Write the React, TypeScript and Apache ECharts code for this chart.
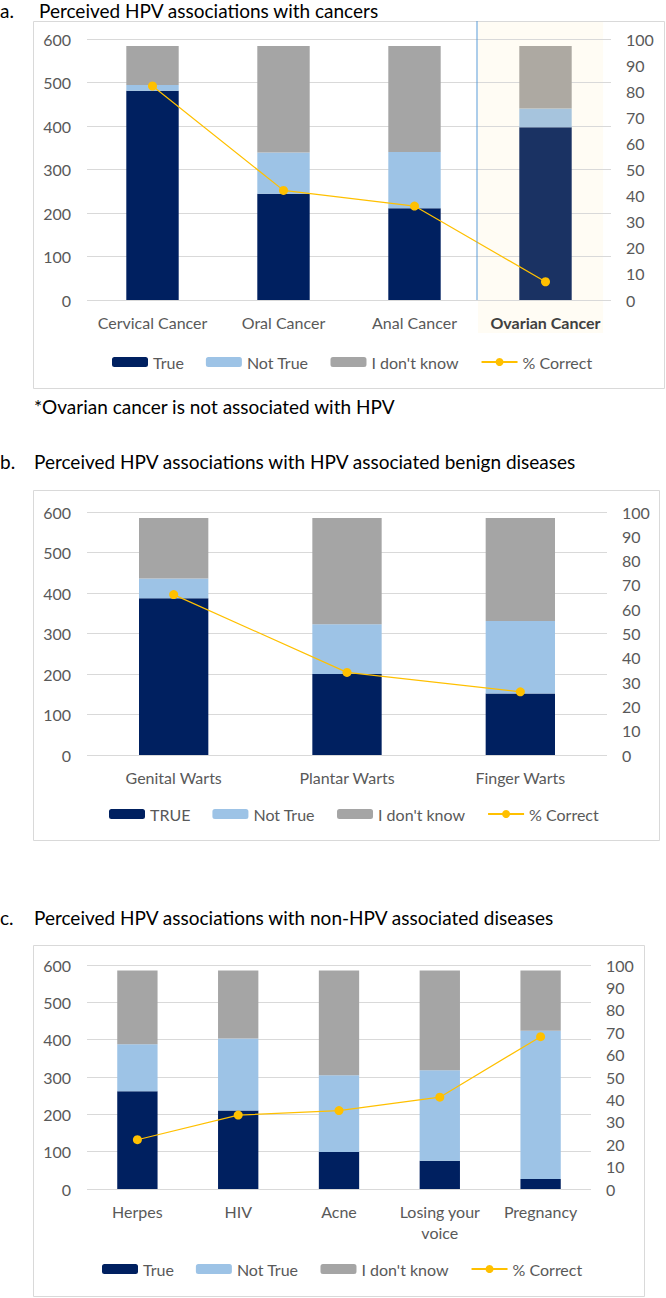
import React, { useEffect, useRef } from "react";
import * as echarts from "echarts";

// ---- Data ----
const catsA = ["Cervical Cancer", "Oral Cancer", "Anal Cancer", "Ovarian Cancer"];
const trueA = [481, 244, 211, 397];
const notTrueA = [13, 95, 129, 43];
const dkA = [90, 245, 244, 144];
const pctA = [82, 42, 36, 7];

const catsB = ["Genital Warts", "Plantar Warts", "Finger Warts"];
const trueB = [387, 200, 152];
const notTrueB = [49, 123, 179];
const dkB = [149, 262, 254];
const pctB = [66, 34, 26];

const catsC = ["Herpes", "HIV", "Acne", "Losing your\nvoice", "Pregnancy"];
const trueC = [262, 210, 99, 76, 27];
const notTrueC = [126, 193, 206, 242, 397];
const dkC = [197, 182, 280, 267, 161];
const pctC = [22, 33, 35, 41, 68];

const leftTicks = { min: 0, max: 600, interval: 100 };
const rightTicks = { min: 0, max: 100, interval: 10 };

const highlighted = "Ovarian Cancer";

// ---- Style ----
const FONT = "Lato";
const NAVY = "#002060";
const LIGHT = "#9DC3E6";
const GRAY = "#A5A5A5";
const GOLD = "#FFC000";
const HL_NAVY = "#1A3263";
const HL_LIGHT = "#A6C4DD";
const HL_GRAY = "#ADA9A2";
const AXIS_TXT = "#595959";
const GRID_LINE = "#D9D9D9";

const grids = [
  { left: 87, top: 39, width: 524, height: 261 },
  { left: 87, top: 512, width: 520, height: 243 },
  { left: 87, top: 965, width: 504, height: 224 },
];

function buildOption() {
  const xAxis: any[] = [];
  const yAxis: any[] = [];
  const series: any[] = [];
  const sets = [
    { cats: catsA, t: trueA, n: notTrueA, d: dkA, p: pctA, trueName: "True" },
    { cats: catsB, t: trueB, n: notTrueB, d: dkB, p: pctB, trueName: "TRUE" },
    { cats: catsC, t: trueC, n: notTrueC, d: dkC, p: pctC, trueName: "True" },
  ];
  sets.forEach((s, i) => {
    xAxis.push({
      type: "category",
      gridIndex: i,
      data: s.cats.map((c) =>
        c === highlighted
          ? { value: c, textStyle: { fontWeight: "bold", color: "#404040" } }
          : c
      ),
      axisLine: { show: false },
      axisTick: { show: false },
      axisLabel: {
        color: AXIS_TXT,
        fontFamily: FONT,
        fontSize: 16,
        margin: 12,
        lineHeight: 21,
        interval: 0,
      },
    });
    yAxis.push({
      type: "value",
      gridIndex: i,
      ...leftTicks,
      axisLine: { show: false },
      axisTick: { show: false },
      axisLabel: { color: AXIS_TXT, fontFamily: FONT, fontSize: 16, margin: 16 },
      splitLine: { show: true, lineStyle: { color: GRID_LINE, width: 1 } },
    });
    yAxis.push({
      type: "value",
      gridIndex: i,
      position: "right",
      ...rightTicks,
      axisLine: { show: false },
      axisTick: { show: false },
      axisLabel: { color: AXIS_TXT, fontFamily: FONT, fontSize: 16, margin: 15 },
      splitLine: { show: false },
    });
    const hl = (vals: number[], col: string) =>
      vals.map((v, k) =>
        s.cats[k] === highlighted ? { value: v, itemStyle: { color: col } } : v
      );
    series.push({
      name: s.trueName,
      type: "bar",
      stack: "s" + i,
      xAxisIndex: i,
      yAxisIndex: i * 2,
      barWidth: "40%",
      itemStyle: { color: NAVY },
      data: hl(s.t, HL_NAVY),
    });
    series.push({
      name: "Not True",
      type: "bar",
      stack: "s" + i,
      xAxisIndex: i,
      yAxisIndex: i * 2,
      barWidth: "40%",
      itemStyle: { color: LIGHT },
      data: hl(s.n, HL_LIGHT),
    });
    series.push({
      name: "I don't know",
      type: "bar",
      stack: "s" + i,
      xAxisIndex: i,
      yAxisIndex: i * 2,
      barWidth: "40%",
      itemStyle: { color: GRAY },
      data: hl(s.d, HL_GRAY),
    });
    series.push({
      name: "% Correct",
      type: "line",
      xAxisIndex: i,
      yAxisIndex: i * 2 + 1,
      symbol: "circle",
      symbolSize: 9,
      itemStyle: { color: GOLD },
      lineStyle: { color: GOLD, width: 1.2 },
      z: 5,
      data: s.p,
    });
  });

  const legendBase = {
    orient: "horizontal",
    padding: 0,
    itemWidth: 36,
    itemHeight: 10,
    itemGap: 22,
    textStyle: { color: AXIS_TXT, fontFamily: FONT, fontSize: 16 },
    selectedMode: false,
  };

  const titleStyle = { color: "#000", fontFamily: FONT, fontSize: 19, fontWeight: "normal" };

  return {
    animation: false,
    backgroundColor: "#fff",
    grid: grids.map((g) => ({ ...g, containLabel: false })),
    xAxis,
    yAxis,
    series,
    title: [
      { text: "a.", left: 0, top: 1, padding: 0, textStyle: titleStyle },
      { text: "Perceived HPV associations with cancers", left: 39, top: 1, padding: 0, textStyle: titleStyle },
      { text: "*Ovarian cancer is not associated with HPV", left: 34, top: 397, padding: 0, textStyle: titleStyle },
      { text: "b.", left: 0, top: 452, padding: 0, textStyle: titleStyle },
      { text: "Perceived HPV associations with HPV associated benign diseases", left: 34, top: 452, padding: 0, textStyle: titleStyle },
      { text: "c.", left: 0, top: 908, padding: 0, textStyle: titleStyle },
      { text: "Perceived HPV associations with non-HPV associated diseases", left: 34, top: 908, padding: 0, textStyle: titleStyle },
    ],
    legend: [
      { ...legendBase, left: 112, top: 354, data: ["True", "Not True", "I don't know", "% Correct"] },
      { ...legendBase, left: 109, top: 806, data: ["TRUE", "Not True", "I don't know", "% Correct"] },
      { ...legendBase, left: 102, top: 1261, data: ["True", "Not True", "I don't know", "% Correct"] },
    ],
  };
}

export default function App() {
  const ref = useRef<HTMLDivElement>(null);
  useEffect(() => {
    if (!ref.current) return;
    const chart = echarts.init(ref.current, null, { renderer: "svg" });
    chart.setOption(buildOption());

    // Highlight band for the non-HPV cancer, computed through the axis scale
    const idx = catsA.indexOf(highlighted);
    const pC = chart.convertToPixel({ gridIndex: 0 }, [highlighted, 0]) as number[];
    const pPrev = chart.convertToPixel({ gridIndex: 0 }, [catsA[idx - 1], 0]) as number[];
    const band = pC[0] - pPrev[0];
    const bandLeft = pC[0] - band / 2;
    const zeroY = pC[1];

    chart.setOption({
      graphic: [
        {
          type: "rect",
          z: -10,
          silent: true,
          shape: { x: bandLeft - 2, y: 21, width: band * 0.955, height: 312 },
          style: { fill: "#FFFCF4" },
        },
        {
          type: "line",
          z: 10,
          silent: true,
          shape: { x1: bandLeft - 3, y1: 21, x2: bandLeft - 3, y2: zeroY },
          style: { stroke: "#5B9BD5", lineWidth: 1 },
        },
        {
          type: "rect",
          silent: true,
          shape: { x: 33.5, y: 21.5, width: 631, height: 367 },
          style: { fill: "none", stroke: GRID_LINE, lineWidth: 1 },
        },
        {
          type: "rect",
          silent: true,
          shape: { x: 33.5, y: 490.5, width: 626, height: 350 },
          style: { fill: "none", stroke: GRID_LINE, lineWidth: 1 },
        },
        {
          type: "rect",
          silent: true,
          shape: { x: 33.5, y: 945.5, width: 611, height: 351 },
          style: { fill: "none", stroke: GRID_LINE, lineWidth: 1 },
        },
      ],
    });

    return () => chart.dispose();
  }, []);
  return (
    <div
      ref={ref}
      style={{ position: "absolute", left: 0, top: 0, width: 666, height: 1298 }}
    />
  );
}
